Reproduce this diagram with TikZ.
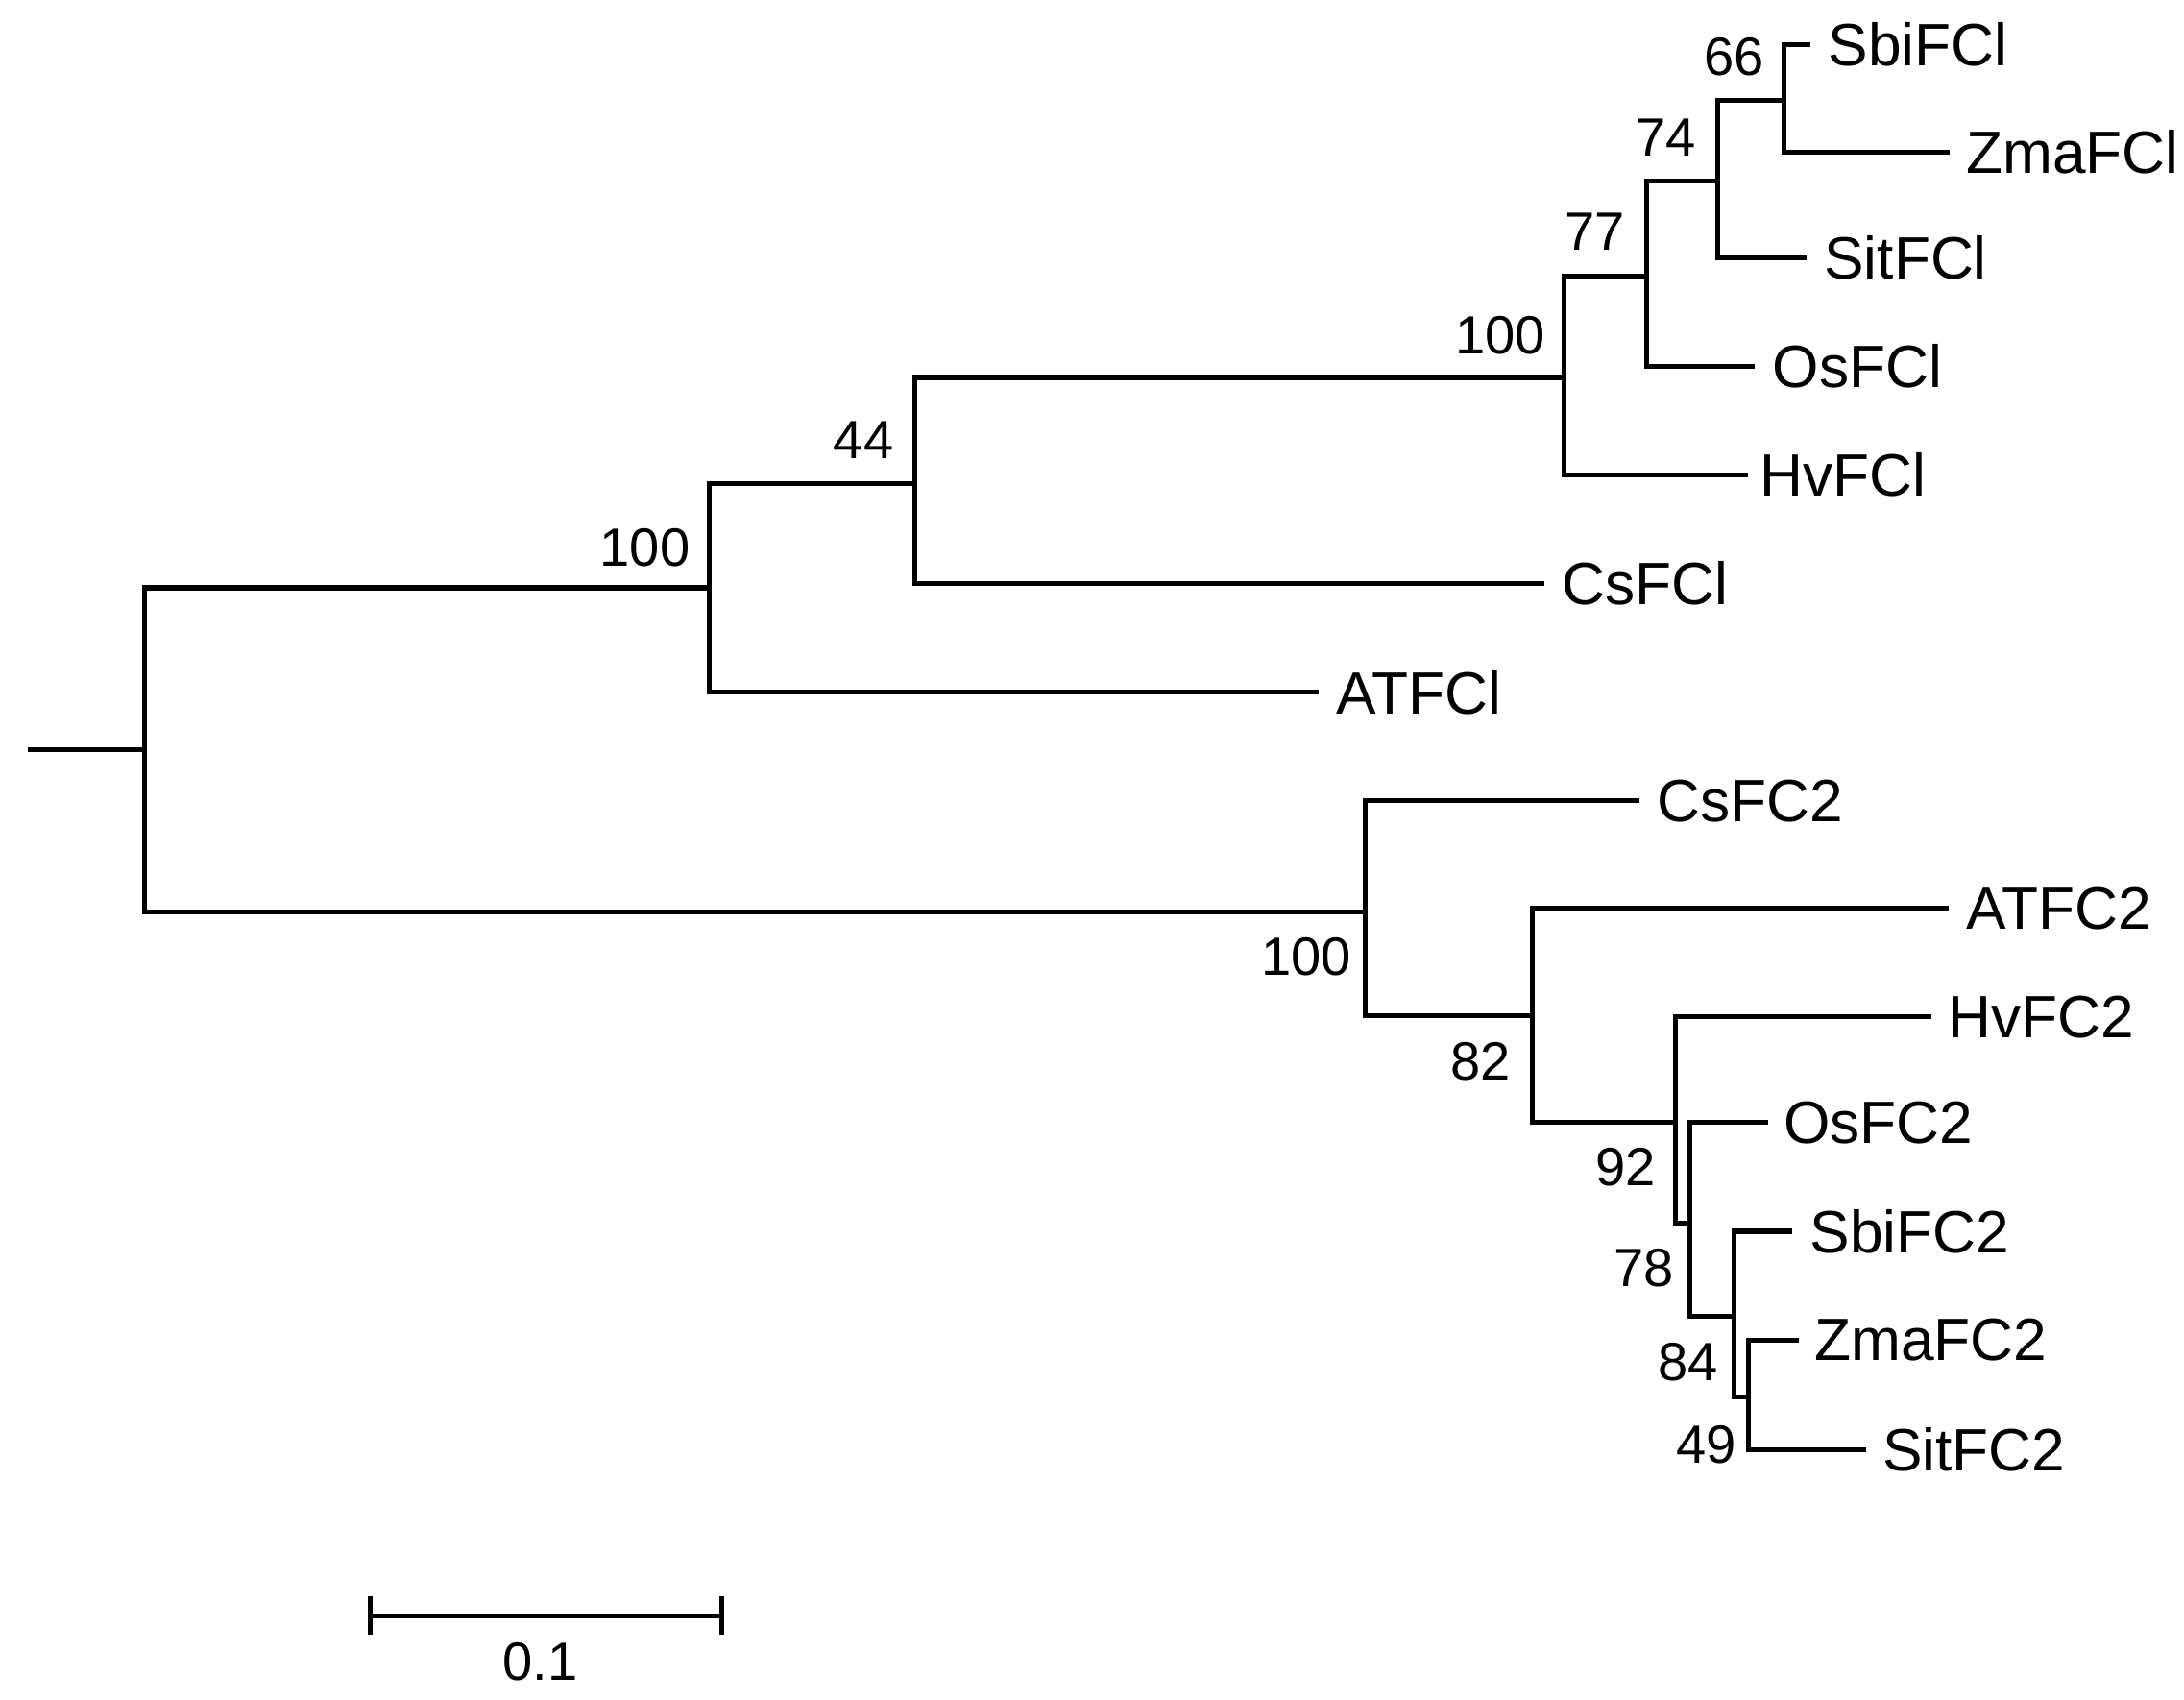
\documentclass[tikz,border=0pt]{standalone}
\usepackage{fontspec}
\setmainfont{Liberation Sans}
\begin{document}
\begin{tikzpicture}[x=0.01cm,y=-0.01cm,
  br/.style={line width=1pt,line cap=rect},
  leaf/.style={anchor=west,inner sep=0pt,font=\fontsize{12.2}{12.2}\selectfont},
  bs/.style={inner sep=0pt,font=\fontsize{11}{11}\selectfont}]
\useasboundingbox (0,0) rectangle (1568,1220);
% internal coordinates
\coordinate (r0) at (22,538);
\coordinate (r) at (104,538);
\coordinate (a) at (509,422);
\coordinate (b) at (657,347);
\coordinate (c) at (1123,271);
\coordinate (d) at (1182,198);
\coordinate (e) at (1233,130);
\coordinate (f) at (1281,72);
\coordinate (g) at (980,655);
\coordinate (h) at (1100,729);
\coordinate (i) at (1203,806);
\coordinate (j) at (1213,878);
\coordinate (k) at (1245,945);
\coordinate (l) at (1255,1003);
% leaves
\node[leaf] (SbiFCl) at (1312,32) {SbiFCl};
\node[leaf] (ZmaFCl) at (1411,109) {ZmaFCl};
\node[leaf] (SitFCl) at (1309,185) {SitFCl};
\node[leaf] (OsFCl) at (1272,263) {OsFCl};
\node[leaf] (HvFCl) at (1263,341) {HvFCl};
\node[leaf] (CsFCl) at (1121,419) {CsFCl};
\node[leaf] (ATFCl) at (959,497) {ATFCl};
\node[leaf] (CsFC2) at (1189,575) {CsFC2};
\node[leaf] (ATFC2) at (1411,652) {ATFC2};
\node[leaf] (HvFC2) at (1398,730) {HvFC2};
\node[leaf] (OsFC2) at (1280,806) {OsFC2};
\node[leaf] (SbiFC2) at (1299,884) {SbiFC2};
\node[leaf] (ZmaFC2) at (1302,962) {ZmaFC2};
\node[leaf] (SitFC2) at (1351,1041) {SitFC2};
% branches
\draw[br] (r0) -- (r);
\draw[br] (r |- a) -- (a) (r |- g) -- (g) (r |- a) -- (r |- g);
\draw[br] (a |- b) -- (a |- ATFCl) -- ++(436,0);
\draw[br] (a |- b) -- (b);
\draw[br] (b |- c) -- (b |- CsFCl) -- ++(450,0);
\draw[br] (b |- c) -- (c);
\draw[br] (c |- d) -- (c |- HvFCl) -- ++(130,0);
\draw[br] (c |- d) -- (d);
\draw[br] (d |- e) -- (d |- OsFCl) -- ++(76,0);
\draw[br] (d |- e) -- (e);
\draw[br] (e |- f) -- (e |- SitFCl) -- ++(62,0);
\draw[br] (e |- f) -- (f);
\draw[br] (f |- SbiFCl) -- (f |- ZmaFCl) -- ++(117,0);
\draw[br] (f |- SbiFCl) -- ++(17,0);
\draw[br] (g |- CsFC2) -- (g |- h) -- (h);
\draw[br] (g |- CsFC2) -- ++(195,0);
\draw[br] (h |- ATFC2) -- (h |- i) -- (i);
\draw[br] (h |- ATFC2) -- ++(297,0);
\draw[br] (i |- HvFC2) -- (i |- j) -- (j);
\draw[br] (i |- HvFC2) -- ++(182,0);
\draw[br] (j |- OsFC2) -- (j |- k) -- (k);
\draw[br] (j |- OsFC2) -- ++(55,0);
\draw[br] (k |- SbiFC2) -- (k |- l) -- (l);
\draw[br] (k |- SbiFC2) -- ++(40,0);
\draw[br] (l |- ZmaFC2) -- (l |- SitFC2) -- ++(83,0);
\draw[br] (l |- ZmaFC2) -- ++(35,0);
% bootstrap
\node[bs] (s1) at (463,393) {100};
\node[bs] (s2) at (620,316) {44};
\node[bs] (s3) at (1077,241) {100};
\node[bs] (s4) at (1145,166) {77};
\node[bs] (s5) at (1196,99) {74};
\node[bs] (s6) at (1245,41) {66};
\node[bs] (s7) at (938,687) {100};
\node[bs] (s8) at (1063,762) {82};
\node[bs] (s9) at (1167,838) {92};
\node[bs] (s10) at (1180,910) {78};
\node[bs] (s11) at (1212,978) {84};
\node[bs] (s12) at (1225,1037) {49};
% scale bar
\coordinate (sb1) at (266,1160);
\coordinate (sb2) at (518,1160);
\draw[br] (sb1) -- (sb2);
\draw[br] (266,1148) -- (266,1172) (518,1148) -- (518,1172);
\node[bs] (sbl) at (388,1193) {0.1};
\end{tikzpicture}
\end{document}
